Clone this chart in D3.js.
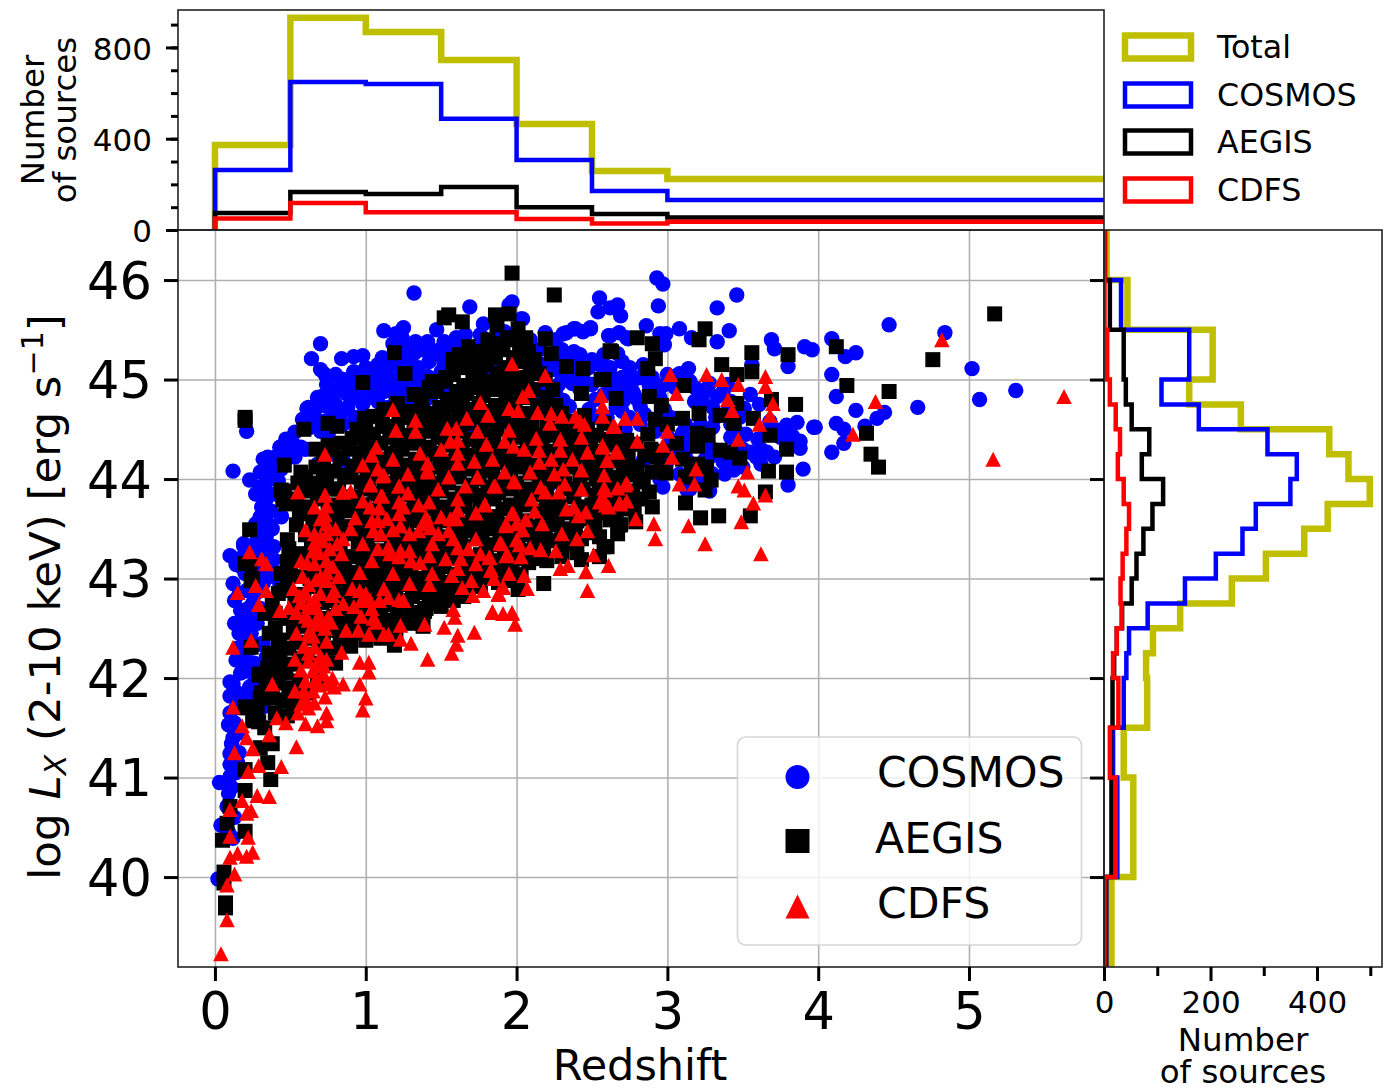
<!DOCTYPE html>
<html>
<head>
<meta charset="utf-8">
<script src="https://cdnjs.cloudflare.com/ajax/libs/d3/7.8.5/d3.min.js"></script>
<style>
  html, body { margin: 0; padding: 0; background: #fff; }
  text { font-family: "DejaVu Sans", sans-serif; fill: #000; }
</style>
</head>
<body>
<svg id="grafico"></svg>
<script>
// top histogram: redshift bins
const binsRedshift = [0, 0.5, 1, 1.5, 2, 2.5, 3, 6];
const zTotal = [372, 930, 868, 745, 465, 258, 224];
const zCosmos = [263, 649, 640, 487, 307, 171, 131];
const zAegis = [75, 167, 158, 188, 100, 70, 55];
const zCdfs = [50, 118, 78, 78, 48, 28, 36];

// right histogram: luminosity bins
const binsLum = [39, 40, 41, 41.5, 42, 42.25, 42.5, 42.75, 43, 43.25, 43.5, 43.75, 44, 44.25, 44.5, 44.75, 45, 45.5, 46, 47];
const lTotal = [14, 55, 37, 81, 79, 92, 143, 240, 304, 376, 420, 499, 459, 423, 257, 160, 204, 44, 5];
const lCosmos = [4, 25, 17, 37, 42, 47, 82, 152, 210, 260, 285, 350, 362, 307, 178, 108, 160, 32, 2];
const lAegis = [4, 14, 12, 16, 19, 24, 34, 52, 61, 74, 91, 111, 71, 85, 52, 41, 37, 11, 1];
const lCdfs = [1, 22, 11, 27, 17, 24, 33, 31, 35, 42, 47, 37, 26, 30, 22, 11, 6, 1, 1];

const ticksRedshift = [0, 1, 2, 3, 4, 5];
const ticksLum = [40, 41, 42, 43, 44, 45, 46];

// scatter, [redshift, log Lx]
const cosmos = [
[2.93,46.02],[2.97,45.96],[2.94,45.74],[3.46,45.85],[3.33,45.72],[2.55,45.82],[2.54,45.68],[2.62,45.72],[2.67,45.75],[2.69,45.64],
[1.97,45.78],[1.95,45.75],[2.04,45.61],[2.38,45.51],[2.33,45.47],[2.44,45.48],[2.49,45.52],[2.19,45.47],[2.26,45.40],[2.09,45.40],
[2.61,45.44],[2.68,45.47],[2.73,45.42],[2.86,45.54],[3.08,45.51],[2.95,45.46],[2.99,45.46],[2.98,45.35],[3.16,45.42],[3.41,45.49],
[3.33,45.38],[3.69,45.40],[3.71,45.31],[3.91,45.33],[3.96,45.30],[3.80,45.13],[3.56,45.15],[2.38,45.27],[2.35,45.21],[2.67,45.26],
[2.45,45.16],[2.55,45.15],[2.62,45.05],[2.70,45.02],[2.78,45.00],[2.84,45.15],[3.14,45.11],[3.08,45.06],[3.19,44.91],[2.88,44.94],
[2.97,44.94],[2.77,44.88],[3.28,44.96],[3.37,44.88],[3.33,44.83],[3.24,44.76],[3.61,44.75],[3.51,44.71],[3.97,44.52],[3.86,44.57],
[3.79,44.54],[3.73,44.49],[3.78,44.46],[3.83,44.43],[3.88,44.38],[3.88,44.31],[3.71,44.22],[3.66,44.27],[3.59,44.22],[3.55,44.27],
[3.90,44.10],[3.80,43.94],[3.44,44.09],[3.37,44.17],[3.13,44.19],[3.10,44.46],[2.84,44.19],[2.97,43.92],[3.13,43.89],[2.26,44.86],
[2.31,44.79],[2.37,44.96],[2.23,44.91],[2.14,44.84],[2.35,44.73],[2.71,44.79],[2.82,44.73],[4.47,45.55],[4.84,45.47],[5.02,45.11],
[5.31,44.89],[5.07,44.80],[4.66,44.72],[4.44,44.67],[4.39,44.61],[4.25,44.69],[4.12,44.83],[4.09,45.05],[4.09,45.41],[4.18,45.23],
[4.25,45.27],[3.98,44.52],[4.12,44.56],[4.17,44.50],[4.31,44.53],[4.17,44.36],[4.09,44.27],
[1.32,45.87],[1.69,45.73],[1.12,45.49],[1.25,45.52],[1.20,45.46],[0.70,45.36],[0.64,45.21],[0.84,45.21],[0.92,45.23],[0.98,45.24],
[0.70,45.10],[0.73,45.05],[1.11,45.22],[0.92,45.08],[1.47,45.50],[1.41,45.38],[1.78,45.56],[2.03,45.61],[1.41,45.03],[1.49,45.30],
[1.54,45.23],[1.32,45.26],[1.18,45.36],[1.32,45.06],[1.20,45.16],[1.09,45.06],[1.03,44.96],[0.83,44.93],[0.77,44.89],[0.71,44.83],
[0.87,44.86],[0.95,44.89],[0.61,44.71],[0.67,44.71],[0.74,44.73],[0.53,44.47],[0.57,44.32],[0.43,44.32],[0.35,44.22],[0.53,44.22],
[0.30,44.07],[0.12,44.08],[0.23,43.99],[0.35,43.99],[0.35,43.86],[0.32,43.72],[0.44,43.63],[0.36,43.54],[0.34,43.42],[0.19,43.35],
[0.10,43.23],[0.14,43.14],[0.21,44.48],[0.54,43.76],[0.85,44.19],[0.90,44.12],[1.20,44.12],[0.12,42.95],[0.13,42.78],[0.19,42.58],
[0.25,42.75],[0.39,43.32],[0.39,43.19],[0.36,43.02],[2.18,43.69],[2.16,44.86],[2.38,45.28],[2.31,45.46],[2.39,45.51],[2.49,45.51],
[2.62,45.44],[2.74,45.41],[2.55,45.15],[2.71,45.01],[2.20,45.43],[2.10,45.30],[2.25,45.20],
[0.31,43.72],[0.44,43.62],[0.19,43.33],[0.18,43.11],[0.24,42.61],[0.19,42.19],[0.20,42.07],[0.12,41.94],[0.10,41.82],[0.23,41.91],
[0.12,41.52],[0.43,42.01],[0.55,43.73],[0.41,43.06],[0.43,42.95],[0.32,42.95],[0.30,42.34],[0.34,42.21],[0.09,41.53],[0.11,41.34],
[0.10,41.24],[0.10,41.13],[0.03,40.95],[0.10,41.01],[0.09,40.84],[0.08,40.71],[0.04,40.52],[0.12,40.39],[0.02,39.98],[0.13,42.55],
[0.19,42.42],[0.21,42.15],[0.14,42.18],[0.32,41.71],[0.10,41.96],[0.24,42.30],[0.27,42.85],[0.30,43.20],[0.25,43.28],[0.27,43.55],
[0.40,44.05],[0.45,44.20],[0.62,44.55],[0.72,44.58],[0.85,44.68],[0.98,44.75],[1.12,44.88],[1.25,44.95],[1.35,44.80],[1.50,45.08],
[1.62,45.28],[1.78,45.40],[1.88,45.45],[2.10,45.12],[2.30,45.05],[2.45,44.98],[2.52,44.80],[2.62,44.90],[2.48,44.70],[2.60,44.62],
[1.02,44.62],[1.15,44.72],[1.30,44.75],[0.60,44.30],[0.68,44.15],[0.78,44.25],[1.72,44.48],[1.88,44.55],[2.22,43.95],[2.52,44.20],
[3.02,44.62],[3.05,44.30],[3.22,44.35],[3.28,44.22],[3.42,44.42],[3.52,44.45],[3.60,44.40],[3.62,44.15],[3.50,44.12],[3.30,44.05]];

// blue that fills the dense parts of the cloud
const cosmosDenso = [
[0.10,41.65],[0.14,41.70],[0.16,41.45],[0.13,41.55],[0.15,41.15],[0.12,41.40],[0.14,41.05],[0.16,41.25],[0.11,40.90],[0.13,40.60],[0.09,40.45],
[0.15,41.85],[0.18,41.75],[0.22,41.80],[0.17,42.05],[0.22,42.10],[0.26,42.15],[0.15,42.30],[0.19,42.28],[0.24,42.45],[0.16,42.45],[0.21,42.52],
[0.28,42.55],[0.17,42.68],[0.22,42.70],[0.30,42.70],[0.16,42.85],[0.21,42.88],[0.27,43.00],[0.20,43.05],[0.24,43.12],[0.30,43.10],[0.16,43.20],
[0.22,43.32],[0.28,43.38],[0.34,43.30],[0.26,43.48],[0.32,43.55],[0.38,43.50],[0.30,43.62],[0.37,43.68],[0.27,43.85],[0.34,43.80],[0.40,43.85],
[0.30,43.92],[0.42,43.98],[0.38,44.12],[0.44,44.10],[0.32,44.20],[0.48,44.25],[0.40,44.22],[0.47,44.40],[0.52,44.35],
[0.58,44.60],[0.63,44.52],[0.66,44.62],[0.70,44.48],[0.78,44.62],[0.80,44.75],[0.76,44.82],[0.88,44.72],[0.92,44.82],[0.99,44.90],[0.90,44.95],
[1.00,45.02],[1.06,44.92],[1.12,44.98],[1.08,44.78],[1.20,44.82],[1.18,45.00],[1.24,45.10],[1.15,45.12],[1.28,45.20],[1.35,45.12],[1.38,44.92],
[1.44,44.85],[1.42,45.18],[1.48,45.02],[1.52,44.92],[1.55,45.12],[1.46,45.25],[1.38,45.30],[1.33,45.38],[1.27,45.33],[1.24,45.42],[1.52,45.38],
[1.58,45.30],[1.60,45.42],[1.72,45.30],[1.76,45.45],[1.85,45.38],[1.66,45.45],[1.92,45.48],[2.00,45.45],[2.15,45.30],[2.18,45.15],[2.30,45.30],
[2.42,45.25],[2.48,45.12],[2.38,45.05],[2.50,44.95],[2.62,45.12],[2.75,45.12],[2.82,45.02],[2.70,44.92],[2.78,44.85],[2.90,44.92],[2.95,44.82],
[2.85,44.65],[2.98,44.70],[3.05,44.92],[3.18,44.78],[3.22,44.55],[3.32,44.62],[3.40,44.68],[3.30,44.52],[3.12,44.55],[3.45,44.50],[3.68,44.58],
[3.75,44.42],[3.65,44.45],[3.62,44.30],[3.50,44.30],[3.40,44.25],[3.30,44.30],[3.12,44.28],[3.00,44.18],[2.95,44.00],[3.08,44.05],[3.20,44.00],
[3.15,43.90],[3.28,43.88],[2.80,44.80],[2.66,44.72],[2.72,44.50],[0.30,42.00],[0.32,42.35],[0.26,41.95],[1.72,44.98],[1.85,45.10],
[0.62,44.72],[0.68,44.82],[0.74,44.95],[0.80,44.88],[0.85,45.00],[0.80,45.05],[0.95,45.00],[1.00,45.12],[1.05,45.10],[1.08,45.15],[1.13,45.05],
[1.20,45.25],[1.28,45.05],[1.34,44.95],[1.30,44.88],[1.40,44.80],[1.25,44.82],[1.18,44.90],[1.05,44.82],[0.93,44.62],[0.68,44.52],[0.75,44.45],
[0.85,44.55],[1.46,44.95],[1.52,45.15],[1.60,45.15],[1.66,45.30],[1.58,45.05],[2.25,45.10],[2.32,45.15],[2.40,45.15],[2.28,44.95],[2.42,44.90],
[2.50,45.20],[2.58,45.25],[2.70,45.18],[2.65,44.95],[2.58,44.85],[2.52,44.62],[2.70,44.68],[2.75,44.62],[2.82,44.55],[2.92,44.48],[3.02,44.40],
[3.15,44.40],[3.25,44.20],[3.38,44.05],[3.45,44.20],[2.90,45.02],[3.00,45.05],[3.15,44.98],[3.25,44.88],[3.40,44.95],[3.30,44.72],[3.42,44.78],
[3.55,44.85],[3.48,44.62],[3.42,44.55]];

const aegis = [
[1.97,46.07],[2.25,45.85],[0.20,44.59],[0.20,44.62],[1.55,45.65],[1.52,45.62],[1.64,45.58],[1.86,45.65],[1.95,45.66],[1.87,45.55],
[2.01,45.51],[2.19,45.41],[2.23,45.26],[1.68,45.33],[1.81,45.40],[1.77,45.28],[2.33,45.13],[2.44,45.11],[2.63,45.28],[2.56,45.00],
[1.19,45.27],[1.26,45.06],[0.98,44.97],[2.43,44.86],[2.66,44.81],[2.45,44.64],[0.59,44.50],[0.75,44.56],[0.81,44.53],[0.99,44.61],
[1.05,44.63],[1.34,44.66],[1.14,44.53],[0.91,44.41],[0.67,44.30],[0.75,44.34],[0.46,44.14],[0.57,44.07],[0.72,44.09],[0.44,43.89],
[0.45,43.79],[0.54,43.54],[0.48,43.39],[0.23,43.49],[0.20,43.15],[0.48,43.17],[0.25,43.00],[0.45,42.88],[2.69,43.54],[2.60,43.32],
[2.43,43.19],[2.13,43.20],[2.18,42.95],[2.01,42.89],[1.93,43.07],[2.30,43.44],[1.65,42.82],[1.39,42.67],[1.45,42.78],[1.19,42.33],
[5.17,45.66],[4.76,45.20],[4.12,45.33],[4.19,44.94],[4.47,44.88],[4.32,44.46],[4.35,44.25],[4.40,44.12],[3.80,45.25],[3.56,45.27],
[3.56,45.08],[3.36,45.15],[3.46,45.05],[3.85,44.75],[3.69,44.80],[3.68,44.44],[3.79,44.30],[3.67,44.08],[3.79,44.07],[3.65,43.87],
[3.55,43.63],[3.34,43.63],[3.22,43.61],[3.12,43.76],[3.25,45.51],[3.21,45.40],[2.80,45.42],[2.90,45.36],[2.62,45.29],[2.92,45.21],
[2.87,45.11],[3.11,44.94],[2.88,44.83],[2.96,44.74],[2.58,45.00],[3.21,44.66],[3.10,44.61],[3.35,44.64],[3.44,44.56],[3.46,44.76],
[3.57,44.61],[3.20,44.46],[3.27,44.44],[3.20,44.33],[3.35,44.29],[3.42,44.27],[3.48,44.21],[3.26,44.12],[3.29,43.99],[2.99,44.06],
[2.90,44.07],[2.82,43.97],[2.88,43.87],[2.90,43.72],[3.25,43.89],[2.68,43.54],[2.62,43.59],[2.79,43.57],[2.58,43.32],[2.55,43.42],
[3.06,44.36],[2.93,44.22],[2.72,44.19],[2.65,44.46],[2.73,44.39],[0.24,42.31],[0.29,42.03],[0.31,41.85],[0.20,41.71],[0.29,41.56],
[0.38,41.34],[0.35,41.15],[0.37,40.98],[0.20,40.87],[0.20,41.08],[0.10,40.71],[0.20,40.46],[0.08,40.54],[0.05,40.37],[0.06,40.05],
[0.06,39.94],[0.07,39.74],[0.07,39.69],[0.42,42.38],[0.43,42.28],[0.43,42.15],[0.39,42.01],[0.45,41.78],[0.51,41.71],[0.83,42.62],
[0.94,42.45],[1.20,42.41],[1.38,42.52],[1.47,42.75],[0.57,41.93],[0.80,42.15],[0.74,42.30],[0.23,43.15],[0.24,42.98],[0.40,42.50],
[0.43,42.38],[0.41,42.20],[0.30,42.04],[0.30,41.80],[0.21,41.70],[0.25,41.57],[0.45,41.77],[0.56,41.97],[0.46,43.88],[0.47,43.75]];

// black body of the cloud, where single squares cannot be told apart
const aegisDenso = [
[0.50,43.10],[0.48,42.92],[0.53,42.75],[0.47,42.60],[0.52,42.46],[0.49,42.30],[0.51,42.14],[0.49,43.30],[0.56,43.25],
[0.60,44.02],[0.62,43.88],[0.59,43.72],[0.65,43.60],[0.60,43.44],[0.64,43.30],[0.61,43.13],[0.63,43.00],[0.59,42.84],[0.62,42.70],[0.60,42.54],[0.65,42.40],[0.61,42.24],
[0.72,44.20],[0.74,43.96],[0.70,43.82],[0.75,43.66],[0.72,43.51],[0.77,43.36],[0.70,43.22],[0.73,43.07],[0.76,42.91],[0.71,42.76],[0.75,42.60],[0.72,42.46],[0.69,42.15],
[0.84,44.36],[0.83,44.21],[0.86,44.04],[0.82,43.90],[0.85,43.74],[0.81,43.60],[0.87,43.45],[0.83,43.30],[0.86,43.14],[0.81,43.00],[0.85,42.84],[0.82,42.70],[0.87,42.54],[0.83,42.40],
[0.94,44.50],[0.96,44.26],[0.92,44.13],[0.97,43.97],[0.93,43.82],[0.96,43.66],[0.91,43.52],[0.95,43.37],[0.98,43.21],[0.92,43.06],[0.97,42.91],[0.93,42.76],[0.96,42.60],
[1.05,44.45],[1.04,44.30],[1.07,44.14],[1.02,44.00],[1.06,43.85],[1.03,43.69],[1.08,43.54],[1.01,43.40],[1.05,43.24],[1.07,43.08],[1.02,42.94],[1.06,42.78],[1.03,42.62],[1.05,42.48],
[1.16,44.42],[1.17,44.26],[1.13,44.12],[1.18,43.96],[1.14,43.80],[1.16,43.66],[1.12,43.50],[1.17,43.36],[1.15,43.20],[1.13,43.04],[1.18,42.90],[1.14,42.74],[1.16,42.58],[1.12,42.44],
[1.26,44.62],[1.27,44.44],[1.24,44.30],[1.28,44.14],[1.25,43.98],[1.29,43.84],[1.23,43.68],[1.27,43.54],[1.24,43.38],[1.28,43.24],[1.25,43.08],[1.23,42.94],[1.27,42.78],[1.24,42.62],
[1.37,44.80],[1.38,44.52],[1.35,44.38],[1.39,44.22],[1.36,44.06],[1.34,43.92],[1.38,43.76],[1.35,43.62],[1.39,43.46],[1.33,43.32],[1.37,43.16],[1.35,43.00],[1.38,42.86],
[1.47,44.88],[1.49,44.72],[1.46,44.58],[1.48,44.42],[1.45,44.26],[1.49,44.12],[1.47,43.96],[1.44,43.82],[1.48,43.66],[1.46,43.50],[1.49,43.36],[1.45,43.20],[1.48,43.04],[1.46,42.90],
[1.58,45.05],[1.60,44.88],[1.57,44.74],[1.59,44.58],[1.56,44.42],[1.60,44.26],[1.57,44.12],[1.55,43.96],[1.59,43.80],[1.56,43.66],[1.60,43.50],[1.57,43.34],[1.55,43.20],[1.59,43.04],[1.56,42.92],
[1.68,45.18],[1.71,45.00],[1.67,44.86],[1.70,44.70],[1.66,44.56],[1.69,44.40],[1.72,44.24],[1.67,44.10],[1.70,43.94],[1.66,43.78],[1.71,43.64],[1.68,43.48],[1.65,43.32],[1.70,43.18],[1.67,43.02],
[1.80,45.15],[1.82,44.98],[1.78,44.84],[1.81,44.68],[1.77,44.54],[1.83,44.38],[1.79,44.22],[1.76,44.08],[1.81,43.92],[1.78,43.78],[1.82,43.62],[1.77,43.46],[1.80,43.32],[1.83,43.16],[1.79,43.02],
[1.91,45.30],[1.92,45.12],[1.89,44.96],[1.93,44.82],[1.90,44.66],[1.87,44.50],[1.92,44.30],[1.89,44.16],[1.93,44.00],[1.88,43.86],[1.91,43.70],[1.94,43.54],[1.89,43.40],[1.92,43.24],[1.88,43.10],
[2.02,45.34],[2.04,45.18],[2.00,45.02],[2.03,44.88],[1.99,44.72],[2.05,44.56],[2.01,44.42],[1.98,44.26],[2.04,44.12],[2.00,43.96],[2.03,43.80],[1.99,43.66],[2.05,43.50],[2.01,43.34],[1.98,43.20],[2.03,43.04],
[2.12,45.20],[2.15,45.06],[2.11,44.90],[2.14,44.74],[2.10,44.60],[2.16,44.44],[2.12,44.30],[2.09,44.14],[2.15,43.98],[2.11,43.84],[2.14,43.68],[2.10,43.52],[2.16,43.38],[2.12,43.30],
[2.24,44.90],[2.26,44.74],[2.22,44.60],[2.25,44.44],[2.21,44.28],[2.27,44.14],[2.23,43.98],[2.20,43.84],[2.26,43.68],[2.22,43.54],[2.25,43.38],
[2.35,44.58],[2.37,44.42],[2.33,44.28],[2.36,44.12],[2.32,43.96],[2.38,43.82],[2.34,43.66],[2.31,43.50],[2.37,43.36],[2.40,43.26],
[2.47,44.50],[2.49,44.36],[2.45,44.20],[2.48,44.06],[2.44,43.90],[2.50,43.74],[2.46,43.60],[2.51,43.46],[2.43,43.40],
[2.58,44.56],[2.60,44.40],[2.56,44.24],[2.59,44.10],[2.55,43.94],[2.61,43.80],[2.57,43.66],
[2.69,44.28],[2.71,44.10],[2.67,43.96],[2.70,43.82],[2.66,43.68],[2.79,44.35],[2.80,44.12],[2.77,43.84],[2.78,43.70],
[2.87,44.45],[2.89,44.30],[2.92,44.60],[3.00,44.55],
[0.55,43.96],[0.54,43.80],[0.56,43.65],[0.52,43.02],[0.55,42.84],[0.56,42.68],[0.55,42.52],[0.54,42.36],[0.56,42.20],[0.40,42.65],[0.36,42.45],[0.36,42.25],[0.35,42.10],[0.34,41.95],
[0.38,41.80],[0.40,41.65],[0.28,41.70],[0.33,41.50],[0.30,41.30],[0.40,41.95],[0.47,42.05],[0.49,41.90],[0.42,42.85],[0.38,42.75],[0.44,43.05],[0.33,42.65],
[0.67,44.12],[0.66,43.96],[0.68,43.80],[0.67,43.52],[0.68,43.37],[0.66,43.07],[0.68,42.92],[0.66,42.62],[0.67,42.48],[0.69,42.34],
[0.78,44.30],[0.79,44.08],[0.78,43.90],[0.79,43.74],[0.78,43.58],[0.79,43.44],[0.80,43.22],[0.79,43.08],[0.79,42.98],[0.78,42.78],[0.79,42.62],[0.78,42.48],
[0.89,44.30],[0.90,44.02],[0.88,43.82],[0.90,43.68],[0.89,43.52],[0.89,43.22],[0.90,43.05],[0.89,42.92],[0.90,42.76],[0.89,42.60],[0.89,42.46],
[1.00,44.52],[1.00,44.38],[0.99,44.20],[1.01,44.07],[1.00,43.90],[0.99,43.74],[1.00,43.60],[1.00,43.46],[1.01,43.30],[1.00,43.14],[1.00,43.00],[0.99,42.84],[1.00,42.68],[0.99,42.52],
[1.11,44.58],[1.10,44.36],[1.11,44.20],[1.10,44.04],[1.12,43.90],[1.10,43.74],[1.10,43.60],[1.11,43.44],[1.10,43.28],[1.10,43.12],[1.10,42.98],[1.09,42.84],[1.10,42.68],[1.09,42.52],
[1.21,44.76],[1.21,44.50],[1.21,44.34],[1.20,44.20],[1.21,44.05],[1.21,43.88],[1.19,43.74],[1.20,43.58],[1.20,43.44],[1.21,43.28],[1.19,43.12],[1.19,42.98],[1.20,42.82],[1.21,42.68],[1.19,42.52],
[1.32,44.85],[1.32,44.55],[1.31,44.36],[1.33,44.20],[1.32,44.02],[1.31,43.88],[1.32,43.72],[1.31,43.58],[1.32,43.42],[1.31,43.26],[1.30,43.12],[1.30,42.98],[1.31,42.82],[1.31,42.66],
[1.42,44.92],[1.42,44.66],[1.43,44.48],[1.42,44.32],[1.41,44.00],[1.40,43.86],[1.43,43.70],[1.42,43.54],[1.42,43.38],[1.41,43.24],[1.42,43.08],[1.41,42.92],[1.42,42.78],
[1.53,45.02],[1.54,44.80],[1.52,44.64],[1.53,44.50],[1.53,44.34],[1.53,44.18],[1.52,44.04],[1.50,43.88],[1.53,43.72],[1.52,43.58],[1.53,43.42],[1.51,43.28],[1.52,43.12],[1.52,42.96],[1.50,42.84],
[1.63,45.12],[1.65,44.94],[1.64,44.78],[1.62,44.64],[1.63,44.48],[1.64,44.32],[1.64,44.18],[1.62,44.02],[1.64,43.86],[1.63,43.72],[1.65,43.56],[1.63,43.42],[1.61,43.26],[1.64,43.10],[1.62,42.96],
[1.75,45.24],[1.76,45.06],[1.74,44.92],[1.75,44.76],[1.73,44.62],[1.76,44.46],[1.75,44.32],[1.74,44.14],[1.75,44.00],[1.73,43.84],[1.76,43.70],[1.74,43.54],[1.74,43.40],[1.76,43.24],[1.74,43.10],[1.73,42.96],
[1.86,45.22],[1.87,45.06],[1.85,44.90],[1.86,44.74],[1.85,44.60],[1.85,44.44],[1.86,44.26],[1.84,44.10],[1.86,43.96],[1.85,43.80],[1.87,43.62],[1.84,43.50],[1.85,43.34],[1.86,43.18],[1.85,43.02],
[1.97,45.40],[1.98,45.22],[1.96,45.06],[1.97,44.92],[1.96,44.76],[1.96,44.60],[1.97,44.46],[1.95,44.32],[1.98,44.18],[1.96,44.04],[1.97,43.90],[1.96,43.74],[1.98,43.58],[1.97,43.42],[1.95,43.28],[1.97,43.12],[1.96,42.98],
[2.08,45.28],[2.09,45.12],[2.07,44.98],[2.08,44.82],[2.07,44.66],[2.10,44.50],[2.07,44.36],[2.05,44.20],[2.09,44.06],[2.07,43.90],[2.08,43.74],[2.06,43.58],[2.09,43.44],[2.07,43.28],
[2.19,45.00],[2.20,44.82],[2.18,44.68],[2.20,44.52],[2.17,44.36],[2.19,44.22],[2.18,44.06],[2.16,43.92],[2.20,43.76],[2.17,43.62],[2.19,43.46],[2.18,43.32],
[2.30,44.66],[2.31,44.50],[2.29,44.36],[2.30,44.20],[2.28,44.04],[2.31,43.90],[2.29,43.74],[2.27,43.60],[2.31,43.44],[2.30,43.32],
[2.41,44.52],[2.42,44.36],[2.40,44.22],[2.42,44.04],[2.39,43.90],[2.42,43.72],[2.40,43.58],[2.39,43.44],
[2.53,44.44],[2.54,44.28],[2.52,44.14],[2.53,44.00],[2.52,43.84],[2.53,43.68],[2.52,43.54],
[2.64,44.34],[2.65,44.18],[2.63,44.02],[2.64,43.88],[2.63,43.72],[2.74,44.25],[2.75,44.04],[2.73,43.88],[2.72,43.70],[2.85,44.24],[2.84,44.00],[2.83,43.80],[2.96,44.12],[2.97,44.28],[3.10,44.20],[3.16,44.10],[3.12,44.02],[3.20,44.15],
[1.58,45.20],[1.62,45.25],[1.72,45.12],[1.86,45.36],[1.94,45.42],[2.06,45.42],[1.50,44.98],[1.44,44.98],[1.30,44.68],[1.12,44.70],[1.22,44.62],[1.40,42.70],[1.50,42.72],[1.58,42.78],
[1.30,42.55],[1.22,42.55],[1.12,42.58],[1.10,42.40],[1.00,42.38],[0.90,42.32],[0.80,42.30],[0.70,41.95],[0.62,41.85],[0.55,41.85],[0.68,42.02],[0.48,41.62],[1.68,42.90],[1.76,42.92],
[1.88,42.96],[2.08,43.16],[2.20,43.18],[2.30,43.22],[2.55,43.22],[2.67,43.45]];

const cdfs = [
[4.82,45.40],[5.63,44.83],[5.16,44.20],[4.38,44.78],[4.23,44.45],[3.65,45.03],[3.65,44.93],[3.70,44.76],[3.68,44.64],[3.61,44.55],
[3.47,44.95],[3.36,45.00],[3.26,45.05],[3.02,45.05],[3.06,44.86],[3.40,44.80],[3.43,44.69],[3.47,44.40],[3.19,44.10],[3.08,43.95],
[3.18,43.95],[3.53,44.07],[3.47,43.93],[3.51,43.89],[3.65,43.84],[3.57,43.76],[3.49,43.57],[3.14,43.53],[2.91,43.55],[2.79,43.60],
[2.92,43.40],[3.25,43.35],[3.62,43.25],[3.00,44.48],[2.80,44.61],[2.72,44.61],[2.65,44.53],[2.80,44.38],[2.97,44.34],[3.03,44.22],
[2.57,44.34],[2.66,44.28],[2.60,44.19],[2.58,43.91],[2.67,43.91],[2.72,43.94],[2.59,43.74],[2.68,43.76],[2.73,43.78],
[0.55,43.87],[0.73,43.84],[0.85,43.87],[0.90,43.88],[1.03,43.94],[1.11,44.03],[1.22,43.93],[1.41,44.07],[1.74,44.02],[1.86,43.93],
[1.98,43.98],[0.66,43.72],[0.74,43.73],[0.98,43.78],[1.10,43.83],[1.03,43.72],[1.09,43.71],[1.22,43.77],[1.25,43.72],[1.35,43.74],
[1.42,43.77],[1.61,43.80],[1.79,43.75],[1.73,43.66],[1.61,43.69],[1.97,43.66],[0.73,43.64],[0.93,43.61],[0.74,43.55],[1.04,43.58],
[1.08,43.58],[1.22,43.65],[0.90,43.50],[1.05,43.48],[1.23,43.53],[1.18,43.49],[1.39,43.55],[1.35,43.48],[1.56,43.60],[1.60,43.60],
[1.55,43.48],[1.93,43.53],[0.60,43.49],[0.66,43.45],[0.74,43.45],[1.29,43.45],[1.43,43.51],[0.66,43.36],[0.71,43.38],[0.81,43.35],
[0.98,43.35],[1.44,43.35],[1.73,43.40],[1.89,43.36],[0.84,43.25],[0.69,43.26],[0.23,43.27],[0.31,43.20],[0.34,43.15],[0.57,43.18],
[0.61,43.16],[0.74,43.18],[1.04,43.18],[1.16,43.25],[1.23,43.28],[1.29,43.28],[1.36,43.16],[1.42,43.23],[1.61,43.31],[1.63,43.20],
[1.73,43.15],[1.82,43.21],[1.93,43.23],[0.74,43.06],[0.96,43.06],[1.18,43.05],[1.44,43.05],[1.57,43.03],[1.61,43.10],[1.83,43.08],
[0.62,42.94],[0.67,42.99],[0.74,42.98],[0.27,42.93],[0.34,42.88],[0.15,42.86],[0.52,42.90],[0.56,42.83],[0.79,42.88],[0.78,42.83],
[0.91,42.90],[0.96,42.88],[1.29,42.95],[1.42,42.94],[1.64,42.91],[1.71,42.83],[1.91,42.91],[1.88,42.84],[0.29,42.74],[0.66,42.79],
[0.43,42.68],[0.49,42.71],[0.54,42.66],[0.57,42.76],[0.67,42.71],[0.69,42.64],[0.75,42.61],[0.77,42.56],[0.97,42.78],[1.03,42.78],
[1.09,42.78],[1.15,42.81],[1.22,42.79],[1.25,42.78],[1.04,42.70],[0.97,42.62],[0.62,42.58],[0.67,42.54],[0.87,42.48],[0.95,42.48],
[1.02,42.44],[1.07,42.56],[1.12,42.44],[1.15,42.44],[1.23,42.53],[1.23,42.39],[1.30,42.35],[1.39,42.54],[1.52,42.51],[1.58,42.69],
[1.59,42.61],[1.61,42.43],[1.60,42.34],[1.72,42.46],[1.57,42.25],[1.41,42.19],[1.84,42.66],[1.91,42.65],[1.97,42.66],[1.99,42.54],
[0.24,42.38],[0.12,42.31],[0.54,42.45],[0.62,42.45],[0.74,42.37],[0.59,42.32],[0.66,42.31],[0.84,42.26],[0.74,42.19],[0.53,42.19],
[0.62,42.17],[0.96,42.16],[1.02,42.16],[1.02,42.06],[0.57,42.08],[0.65,42.07],[0.72,42.04],[0.67,41.99],[0.74,41.94],[0.73,41.81],
[0.38,41.94],[0.53,41.87],[0.59,41.87],[0.65,41.87],[0.79,41.91],[0.85,41.94],[0.96,41.94],[1.00,41.80],[0.98,41.68],[0.12,41.71],
[0.41,41.60],[0.57,41.74],[0.62,41.70],[0.74,41.65],[0.74,41.57],[0.18,41.52],[0.60,41.54],[0.68,41.52],[0.36,41.43],[0.54,41.31],
[0.21,41.40],[0.25,41.29],[0.13,41.25],[0.29,41.12],[0.44,41.11],[0.22,41.06],[0.28,40.82],[0.36,40.81],[0.18,40.77],[0.10,40.68],
[0.24,40.67],[0.21,40.64],[0.10,40.41],[0.22,40.40],[0.10,40.20],[0.15,40.24],[0.21,40.21],[0.25,40.25],[0.13,40.03],[0.08,39.92],
[0.08,39.57],[0.04,39.23],
[1.97,45.16],[2.19,45.04],[2.08,44.89],[2.04,44.83],[1.76,44.77],[1.18,44.70],[1.33,44.59],[1.20,44.49],[1.33,44.48],[1.67,44.61],
[1.81,44.64],[1.95,44.71],[2.01,44.69],[2.14,44.67],[2.23,44.66],[2.30,44.63],[2.39,44.63],[2.42,44.58],[2.22,44.56],[2.56,44.84],
[2.57,44.73],[2.57,44.63],[2.72,44.61],[2.64,44.53],[1.54,44.51],[1.60,44.51],[1.74,44.48],[1.95,44.49],[1.92,44.38],[1.98,44.33],
[2.13,44.41],[2.29,44.40],[2.43,44.42],[1.56,44.38],[1.61,44.39],[1.07,44.32],[1.04,44.24],[0.73,44.25],[1.36,44.26],[2.15,44.29],
[2.29,44.29],[2.47,44.27],[2.57,44.32],[2.67,44.27],[2.60,44.19],[1.61,44.26],[1.61,44.16],[1.84,44.20],[1.41,44.16],[1.41,44.09],
[0.98,44.14],[2.15,44.17],[2.23,44.20],[2.09,44.07],[1.92,44.07],[2.31,44.10],[2.43,44.09],[1.12,44.04],[1.74,44.02],[1.99,43.97],
[1.03,43.95],[1.22,43.93],[1.85,43.93],[2.58,44.04],[2.16,43.92],[2.19,43.87],[2.32,43.95],[2.28,43.87],[2.43,43.90],[2.59,43.89],
[2.73,43.96],[0.73,43.84],[0.85,43.87],[1.11,43.83],
[2.58,43.79],[2.55,43.77],[2.61,43.72],[2.69,43.75],[2.38,43.72],[2.41,43.63],[2.46,43.67],[1.79,43.74],[1.98,43.65],[1.93,43.55],
[2.00,43.55],[2.06,43.59],[2.17,43.55],[2.04,43.49],[2.30,43.45],[2.40,43.40],[2.47,43.48],[1.90,43.35],[2.00,43.39],[2.02,43.34],
[2.09,43.31],[2.16,43.29],[2.26,43.28],[2.51,43.24],[1.82,43.22],[1.94,43.24],[2.03,43.22],[1.83,43.09],[2.05,43.03],[2.29,43.10],
[2.34,43.13],[2.46,43.07],[2.61,43.13],[1.91,42.92],[1.88,42.85],[2.07,42.90],[2.47,42.88],[1.84,42.67],[1.97,42.65],
[0.70,43.60],[0.80,43.50],[0.70,43.42],[0.76,43.30],[0.85,43.40],[0.66,43.15],[0.78,43.12],[0.70,43.02],[0.65,43.28],[0.58,43.02],[0.82,43.02],
[0.60,42.85],[0.70,42.85],[0.62,42.72],[0.70,42.60],[0.80,42.70],[0.85,42.75],[0.60,42.62],[0.73,42.50],[0.65,42.42],[0.70,42.22],[0.62,42.25],
[0.67,42.13],[0.72,42.12],[0.78,42.00],[0.60,41.97],[0.69,41.93],[1.15,43.32],[1.22,43.22],[1.30,43.18],[1.08,43.30],[1.12,42.90],[1.00,42.85],
[1.05,42.60],[0.92,42.72],[1.10,43.45],[1.14,43.60],[1.48,43.45],[1.50,43.62],[1.58,43.40],[1.68,43.30],[1.76,43.25],[1.53,43.20],[1.70,42.98],
[1.78,42.88],[1.85,43.00],[1.95,43.05],[1.40,43.62],[1.28,43.86],[1.08,44.10],[1.18,44.20],[1.28,44.05],[1.50,44.30],[1.72,44.18],[1.80,44.35],
[1.55,44.02],[1.48,43.90],[1.66,43.93],[2.05,44.30],[2.10,43.80],[2.25,44.05],[2.37,44.20],[2.45,44.55],[2.33,43.70],[2.12,43.68],
[0.66,41.75],[0.55,41.65],[0.60,41.80],[0.47,41.55],[0.68,42.55]];

function desenhaGrafico() {
  const largura = 1393, altura = 1091;
  const svg = d3.select('#grafico').attr('width', largura).attr('height', altura).style('display', 'block');

  const esq = 178, dir = 1104, topoHist = 10, topo = 230, base = 967, fimDir = 1382;

  // scales
  const x = d3.scaleLinear().domain([-0.245, 5.895]).range([esq, dir]);
  const y = d3.scaleLinear().domain([39.096, 46.503]).range([base, topo]);
  const yTopo = d3.scaleLinear().domain([0, 964]).range([topo, topoHist]);
  const xDir = d3.scaleLinear().domain([0, 522]).range([dir, fimDir]);

  const defs = svg.append('defs');
  defs.append('clipPath').attr('id', 'clipTopo').append('rect')
    .attr('x', esq).attr('y', topoHist).attr('width', dir - esq).attr('height', topo - topoHist);
  defs.append('clipPath').attr('id', 'clipDir').append('rect')
    .attr('x', dir).attr('y', topo).attr('width', fimDir - dir).attr('height', base - topo);

  // grid of the main panel
  svg.append('g').attr('transform', `translate(0,${base})`)
    .call(d3.axisBottom(x).tickValues(ticksRedshift).tickSize(-(base - topo)).tickFormat(''))
    .call(g => g.select('.domain').remove())
    .selectAll('line').attr('stroke', '#b0b0b0').attr('stroke-width', 1.6);
  svg.append('g').attr('transform', `translate(${esq},0)`)
    .call(d3.axisLeft(y).tickValues(ticksLum).tickSize(-(dir - esq)).tickFormat(''))
    .call(g => g.select('.domain').remove())
    .selectAll('line').attr('stroke', '#b0b0b0').attr('stroke-width', 1.6);

  // scatter: one series after the other
  const pontos = svg.append('g');
  pontos.selectAll('.cosmos').data(cosmos.concat(cosmosDenso)).enter().append('circle')
    .attr('class', 'cosmos')
    .attr('cx', d => x(d[0])).attr('cy', d => y(d[1])).attr('r', 7.7).attr('fill', '#0000ff');
  pontos.selectAll('.aegis').data(aegis.concat(aegisDenso)).enter().append('rect')
    .attr('class', 'aegis')
    .attr('x', d => x(d[0]) - 7.5).attr('y', d => y(d[1]) - 7.5).attr('width', 15).attr('height', 15).attr('fill', '#000');
  pontos.selectAll('.cdfs').data(cdfs).enter().append('path')
    .attr('class', 'cdfs')
    .attr('transform', d => `translate(${x(d[0])},${y(d[1])})`)
    .attr('d', 'M0,-7.5L7.8,7.5L-7.8,7.5Z').attr('fill', '#ff0000');

  // steps of a histogram
  function degraus(bins, valores) {
    const vertices = [[bins[0], 0]];
    valores.forEach((v, i) => { vertices.push([bins[i], v]); vertices.push([bins[i + 1], v]); });
    vertices.push([bins[bins.length - 1], 0]);
    return vertices;
  }
  const linhaTopo = d3.line().x(d => x(d[0])).y(d => yTopo(d[1]));
  const linhaDir = d3.line().x(d => xDir(d[1])).y(d => y(d[0]));

  const histZ = [[zTotal, '#bfbf00', 6.5], [zCosmos, '#0000ff', 4.5], [zAegis, '#000', 4.5], [zCdfs, '#ff0000', 4.5]];
  const histL = [[lTotal, '#bfbf00', 6.5], [lCosmos, '#0000ff', 4.5], [lAegis, '#000', 4.5], [lCdfs, '#ff0000', 4.5]];

  const gTopo = svg.append('g').attr('clip-path', 'url(#clipTopo)');
  histZ.forEach(h => {
    gTopo.append('path').datum(degraus(binsRedshift, h[0])).attr('d', linhaTopo)
      .attr('fill', 'none').attr('stroke', h[1]).attr('stroke-width', h[2]);
  });
  const gDir = svg.append('g').attr('clip-path', 'url(#clipDir)');
  histL.forEach(h => {
    gDir.append('path').datum(degraus(binsLum, h[0])).attr('d', linhaDir)
      .attr('fill', 'none').attr('stroke', h[1]).attr('stroke-width', h[2]);
  });

  // frames
  [[esq, topoHist, dir, topo], [esq, topo, dir, base], [dir, topo, fimDir, base]].forEach(q => {
    svg.append('rect').attr('x', q[0]).attr('y', q[1]).attr('width', q[2] - q[0]).attr('height', q[3] - q[1])
      .attr('fill', 'none').attr('stroke', '#222').attr('stroke-width', 1.6);
  });

  // axes
  function estilo(g, tamanho) {
    g.select('.domain').remove();
    g.selectAll('line').attr('stroke', '#000').attr('stroke-width', 3);
    g.selectAll('text').attr('font-size', tamanho).attr('font-family', '"DejaVu Sans", sans-serif');
  }
  svg.append('g').attr('transform', `translate(0,${base})`)
    .call(d3.axisBottom(x).tickValues(ticksRedshift).tickSize(14).tickPadding(12).tickFormat(d3.format('d')))
    .call(g => estilo(g, 51));
  svg.append('g').attr('transform', `translate(${esq},0)`)
    .call(d3.axisLeft(y).tickValues(ticksLum).tickSize(14).tickPadding(12).tickFormat(d3.format('d')))
    .call(g => estilo(g, 51))
    .selectAll('text').attr('dy', '0.36em');
  svg.append('g').attr('transform', `translate(${dir},0)`)
    .call(d3.axisLeft(y).tickValues(ticksLum).tickSize(14).tickFormat(''))
    .call(g => estilo(g, 10));
  svg.append('g').attr('transform', `translate(${esq},0)`)
    .call(d3.axisLeft(yTopo).tickValues(d3.range(0, 1000, 100)).tickSize(7).tickFormat(''))
    .call(g => estilo(g, 10));
  svg.append('g').attr('transform', `translate(${esq},0)`)
    .call(d3.axisLeft(yTopo).tickValues([0, 400, 800]).tickSize(12).tickPadding(14))
    .call(g => estilo(g, 31))
    .selectAll('text').attr('dy', '0.38em');
  svg.append('g').attr('transform', `translate(0,${base})`)
    .call(d3.axisBottom(xDir).tickValues([100, 300, 500]).tickSize(9).tickFormat(''))
    .call(g => estilo(g, 10));
  svg.append('g').attr('transform', `translate(0,${base})`)
    .call(d3.axisBottom(xDir).tickValues([0, 200, 400]).tickSize(14).tickPadding(10))
    .call(g => estilo(g, 31));

  // axis titles
  svg.append('text').attr('x', 640).attr('y', 1080).attr('text-anchor', 'middle').attr('font-size', 43).text('Redshift');
  const rotuloDir = svg.append('text').attr('text-anchor', 'middle').attr('font-size', 32.5);
  rotuloDir.append('tspan').attr('x', 1243).attr('y', 1051).text('Number');
  rotuloDir.append('tspan').attr('x', 1243).attr('y', 1083).text('of sources');
  const rotuloTopo = svg.append('text').attr('transform', 'translate(44,120) rotate(-90)').attr('text-anchor', 'middle').attr('font-size', 32.5);
  rotuloTopo.append('tspan').attr('x', 0).attr('y', 0).text('Number');
  rotuloTopo.append('tspan').attr('x', 0).attr('y', 32).text('of sources');

  const rotuloY = svg.append('text').attr('transform', 'translate(60,597) rotate(-90)')
    .attr('text-anchor', 'middle').attr('font-size', 43.5);
  rotuloY.append('tspan').text('log ');
  rotuloY.append('tspan').attr('font-style', 'italic').text('L');
  rotuloY.append('tspan').attr('font-style', 'italic').attr('font-size', 30).attr('dy', 6).text('X');
  rotuloY.append('tspan').attr('dy', -6).text(' (2-10 keV) [erg s');
  rotuloY.append('tspan').attr('font-size', 30).attr('dy', -17).text('\u22121');
  rotuloY.append('tspan').attr('dy', 17).text(']');

  // legend of the histograms
  const legendaTopo = [['Total', '#bfbf00', 6.5, 47], ['COSMOS', '#0000ff', 4.5, 95], ['AEGIS', '#000', 4.5, 142], ['CDFS', '#ff0000', 4.5, 190]];
  legendaTopo.forEach(l => {
    svg.append('rect').attr('x', 1125).attr('y', l[3] - 11.5).attr('width', 66).attr('height', 23)
      .attr('fill', 'none').attr('stroke', l[1]).attr('stroke-width', l[2]);
    svg.append('text').attr('x', 1217).attr('y', l[3] + 11).attr('font-size', 31.7).text(l[0]);
  });

  // legend of the scatter
  svg.append('rect').attr('x', 737.5).attr('y', 737).attr('width', 344).attr('height', 208).attr('rx', 8)
    .attr('fill', '#fff').attr('fill-opacity', 0.8).attr('stroke', '#ccc').attr('stroke-opacity', 0.8).attr('stroke-width', 1.6);
  svg.append('circle').attr('cx', 797.5).attr('cy', 777).attr('r', 12).attr('fill', '#0000ff');
  svg.append('rect').attr('x', 785.5).attr('y', 829).attr('width', 24).attr('height', 24).attr('fill', '#000');
  svg.append('path').attr('transform', 'translate(797.5,906.5)').attr('d', 'M0,-12L12,12L-12,12Z').attr('fill', '#ff0000');
  [['COSMOS', 877, 787], ['AEGIS', 875, 853], ['CDFS', 877, 918]].forEach(l => {
    svg.append('text').attr('x', l[1]).attr('y', l[2]).attr('font-size', 42.6).text(l[0]);
  });
}

desenhaGrafico();
</script>
</body>
</html>
